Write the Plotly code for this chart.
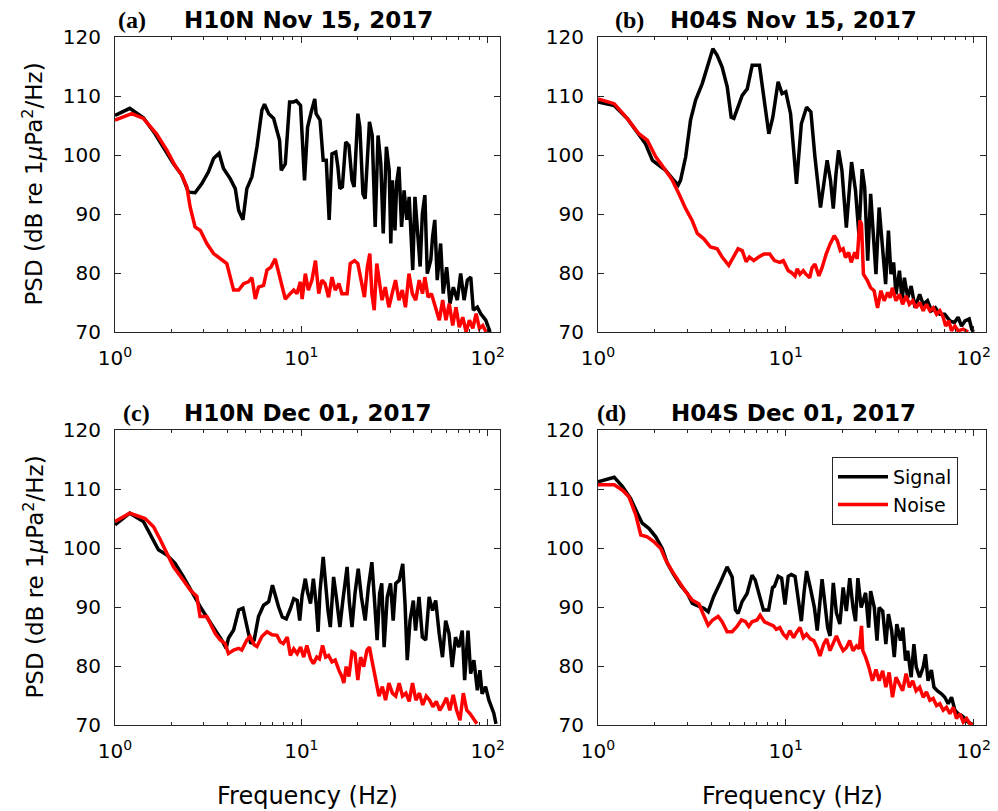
import plotly.graph_objects as go

# ---------------- data (frequency in Hz, PSD in dB re 1 uPa^2/Hz) ----------------
# (a) H10N Nov 15, 2017
fa_sig = [1, 1.2, 1.42, 1.64, 1.86, 2.06, 2.28, 2.48, 2.69, 2.92,
          3.17, 3.38, 3.62, 3.82, 4.15, 4.42, 4.61, 4.86, 5.1, 5.43,
          5.78, 6.14, 6.34, 6.68, 7.1, 7.64, 7.8, 8.2, 8.65, 9.1,
          9.4, 9.9, 10.4, 10.8, 11.3, 11.6, 11.8, 12.0, 12.6, 13.1,
          13.6, 14.1, 14.6, 15.3, 15.7, 16.1, 16.6, 17.3, 18.0, 18.7,
          19.2, 20.1, 20.6, 21.4, 22.0, 23.2, 24.0, 24.9, 25.8, 26.7,
          27.5, 28.6, 29.6, 30.2, 30.8, 31.8, 32.5, 33.4, 34.5, 35.6,
          36.8, 37.9, 39.6, 40.7, 41.9, 43.4, 44.6, 46.0, 47.4, 49.5,
          50.6, 52.0, 53.6, 55.9, 57.7, 60.2, 62.8, 65.4, 68.7, 71.6,
          74.7, 77.8, 81.1, 83.7, 88.0, 91.8, 97.6, 103.0]
da_sig = [106.7, 107.9, 106.3, 103.6, 100.8, 98.5, 96.6, 93.7, 93.6, 95.1,
          97.1, 99.4, 100.3, 97.7, 96.0, 94.3, 90.6, 89.0, 94.3, 96.3,
          101.4, 107.6, 108.6, 107.0, 106.2, 102.5, 97.4, 98.5, 109.0, 109.0,
          109.2, 108.4, 95.7, 104.7, 107.3, 108.4, 109.5, 107.0, 105.9, 99.1,
          99.1, 89.0, 100.2, 100.5, 98.0, 94.3, 94.6, 102.2, 101.6, 95.7,
          94.6, 107.0, 104.7, 93.4, 92.6, 105.6, 103.3, 87.8, 103.3, 98.5,
          86.7, 101.4, 97.4, 85.0, 95.7, 87.2, 95.4, 98.0, 87.8, 94.0,
          89.0, 92.9, 80.5, 92.9, 87.8, 81.1, 90.0, 93.2, 79.9, 82.2,
          86.1, 89.0, 78.8, 85.0, 76.5, 81.0, 74.8, 77.6, 75.4, 79.9,
          75.4, 78.8, 79.3, 73.7, 74.2, 73.1, 72.0, 70.0]
fa_noi = [1, 1.23, 1.42, 1.67, 1.9, 2.1, 2.28, 2.43, 2.53, 2.69,
          2.87, 3.11, 3.38, 3.67, 3.98, 4.33, 4.61, 4.9, 5.2, 5.43,
          5.66, 5.89, 6.27, 6.54, 6.87, 7.24, 7.55, 7.87, 8.2, 8.72,
          9.1, 9.47, 9.88, 10.1, 10.5, 10.9, 11.4, 11.9, 12.4, 12.9,
          13.4, 14.0, 14.6, 15.2, 15.9, 16.5, 17.6, 18.3, 19.3, 20.1,
          20.9, 21.8, 22.6, 23.3, 23.9, 24.6, 25.4, 26.3, 27.1, 28.2,
          29.5, 30.7, 32.0, 33.4, 34.8, 36.2, 37.8, 39.4, 41.1, 42.9,
          44.7, 46.0, 47.9, 49.9, 52.7, 55.0, 57.3, 59.7, 62.2, 64.9,
          67.6, 70.4, 73.5, 76.6, 79.8, 83.2, 86.7, 90.3, 94.1, 98.1]
da_noi = [105.9, 107.0, 106.2, 103.6, 100.8, 98.2, 96.6, 94.6, 91.2, 87.8,
          87.2, 85.0, 83.3, 82.4, 81.6, 77.1, 77.1, 78.2, 78.5, 79.2,
          75.6, 77.6, 77.9, 80.5, 81.0, 82.4, 79.9, 77.6, 75.6, 76.5,
          77.1, 76.5, 78.5, 75.6, 79.9, 77.1, 78.8, 82.1, 76.5, 78.8,
          78.2, 75.9, 79.3, 77.1, 78.2, 76.5, 76.5, 81.6, 82.1, 81.6,
          78.8, 75.9, 81.0, 83.3, 76.5, 73.7, 81.6, 78.2, 75.4, 77.6,
          74.2, 76.5, 78.8, 75.4, 77.1, 74.2, 79.9, 76.5, 75.4, 78.8,
          76.5, 79.3, 75.9, 76.5, 74.2, 72.0, 75.4, 72.0, 74.8, 71.1,
          74.2, 70.8, 72.5, 70.0, 72.0, 70.6, 73.1, 70.6, 71.1, 70.0]

# (b) H04S Nov 15, 2017
fb_sig = [1.0, 1.22, 1.43, 1.65, 1.79, 1.95, 2.11, 2.29, 2.49, 2.67,
          2.75, 2.93, 3.11, 3.31, 3.59, 3.81, 4.09, 4.31, 4.58, 4.88,
          5.12, 5.29, 5.51, 5.86, 6.23, 6.62, 7.24, 7.64, 8.12, 8.53,
          9.1, 9.55, 10.0, 10.6, 11.4, 12.1, 12.9, 13.6, 14.3, 15.3,
          16.0, 16.6, 17.3, 17.9, 18.5, 19.1, 19.9, 21.0, 22.4, 23.5,
          24.5, 25.5, 26.3, 27.3, 28.3, 29.2, 30.2, 31.4, 32.8, 34.0,
          35.2, 36.3, 37.5, 38.6, 40.3, 41.6, 42.8, 44.6, 46.5, 48.8,
          51.6, 53.9, 56.8, 59.6, 62.6, 66.1, 70.2, 74.8, 79.0, 82.7,
          86.3, 90.0, 94.7, 97.7, 99.8]
db_sig = [109.0, 108.4, 106.2, 103.6, 101.9, 99.1, 98.2, 97.4, 96.0, 94.9,
          95.7, 99.7, 105.9, 109.3, 112.1, 114.9, 118.0, 116.9, 114.9, 111.5,
          106.4, 106.2, 107.6, 110.1, 111.2, 115.2, 115.2, 109.8, 103.6, 106.4,
          112.4, 110.4, 110.7, 107.0, 95.1, 105.3, 108.1, 107.3, 99.6, 91.1,
          95.7, 99.1, 95.7, 90.9, 96.8, 100.8, 97.4, 87.7, 98.8, 94.0,
          86.6, 97.6, 94.5, 82.1, 93.4, 87.2, 79.8, 91.1, 84.3, 78.1,
          87.2, 79.8, 81.8, 76.4, 80.4, 75.3, 79.2, 75.8, 77.8, 74.1,
          76.4, 74.7, 75.3, 73.6, 74.1, 73.0, 73.0, 71.9, 71.6, 72.5,
          71.0, 71.9, 72.2, 70.5, 70.0]
fb_noi = [1.0, 1.22, 1.43, 1.65, 1.83, 2.03, 2.29, 2.49, 2.7, 2.93,
          3.17, 3.38, 3.66, 3.97, 4.31, 4.58, 4.97, 5.29, 5.57, 5.86,
          6.15, 6.4, 6.75, 7.17, 7.64, 8.22, 8.7, 9.3, 9.7, 10.3,
          10.7, 11.2, 11.5, 11.9, 12.4, 12.8, 13.4, 13.8, 14.3, 15.0,
          15.6, 16.4, 17.2, 18.1, 18.8, 19.5, 20.2, 20.8, 21.6, 22.3,
          23.3, 24.0, 24.8, 25.3, 25.9, 27.2, 28.3, 29.5, 30.8, 32.1,
          33.4, 34.9, 36.0, 36.9, 38.6, 40.3, 41.9, 43.7, 45.5, 47.4,
          49.4, 51.6, 53.9, 56.1, 58.5, 60.9, 63.5, 66.1, 68.9, 71.0,
          73.7, 76.3, 79.5, 82.7, 88.0, 93.5]
db_noi = [109.5, 108.7, 106.2, 103.6, 102.5, 99.7, 97.4, 95.7, 93.4, 90.9,
          88.9, 86.7, 85.8, 84.4, 84.1, 82.7, 81.3, 82.7, 84.1, 83.8,
          81.9, 82.7, 82.1, 82.7, 83.2, 83.2, 82.1, 81.8, 82.1, 80.4,
          80.1, 79.5, 80.7, 79.8, 80.4, 79.8, 79.2, 80.9, 81.5, 79.5,
          80.9, 83.2, 84.9, 86.3, 85.5, 83.8, 84.1, 82.6, 83.5, 81.8,
          83.5, 82.4, 88.9, 88.3, 79.8, 78.7, 77.5, 77.0, 74.1, 77.0,
          75.3, 76.7, 75.8, 77.5, 75.3, 76.4, 74.7, 76.1, 74.7, 75.3,
          74.1, 75.0, 73.6, 74.7, 73.6, 74.1, 73.0, 73.6, 72.5, 71.0,
          71.9, 70.2, 71.0, 70.2, 70.5, 70.0]

# (c) H10N Dec 01, 2017
fc_sig = [1.0, 1.2, 1.42, 1.57, 1.71, 1.9, 2.1, 2.33, 2.58, 2.86,
          3.18, 3.45, 3.74, 3.95, 4.06, 4.33, 4.61, 4.86, 5.1, 5.35,
          5.58, 5.89, 6.27, 6.68, 7.0, 7.24, 7.55, 7.9, 8.3, 8.73,
          9.1, 9.5, 9.8, 10.1, 10.5, 10.8, 11.2, 11.6, 12.0, 12.3,
          12.6, 13.1, 13.4, 13.9, 14.3, 14.9, 15.4, 16.1, 16.7, 17.6,
          18.1, 18.7, 19.4, 20.2, 21.0, 22.0, 22.9, 23.9, 24.7, 25.5,
          26.3, 27.0, 27.8, 28.9, 30.1, 31.1, 32.1, 33.5, 35.0, 36.0,
          37.0, 38.3, 39.9, 41.0, 42.8, 44.6, 46.5, 48.5, 50.6, 52.6,
          54.9, 57.2, 59.5, 62.0, 64.5, 67.2, 70.0, 73.0, 75.2, 78.4,
          81.0, 84.3, 88.0, 90.8, 93.3, 97.4, 101.5, 104.3, 107.8, 110.8]
dc_sig = [103.9, 105.9, 104.5, 101.9, 99.7, 98.8, 97.4, 95.1, 92.6, 90.1,
          87.8, 86.1, 84.4, 83.0, 84.7, 86.1, 89.5, 89.8, 86.7, 83.8,
          84.4, 88.4, 90.3, 90.9, 93.7, 92.0, 90.0, 88.3, 88.0, 89.7,
          91.4, 91.1, 87.7, 92.0, 94.8, 92.5, 90.6, 94.8, 90.6, 85.8,
          92.8, 98.5, 94.8, 89.4, 86.6, 95.1, 91.7, 86.6, 91.1, 96.8,
          90.8, 86.6, 92.3, 96.5, 91.7, 87.7, 93.4, 97.6, 91.1, 84.4,
          92.3, 94.0, 83.2, 91.7, 94.0, 87.7, 94.0, 94.5, 97.3, 90.6,
          81.0, 87.7, 91.1, 86.0, 91.7, 84.9, 84.4, 91.7, 89.4, 91.1,
          85.5, 81.5, 87.7, 85.5, 79.8, 84.9, 83.2, 86.0, 77.6, 86.0,
          78.7, 81.0, 75.9, 79.3, 75.3, 76.5, 74.2, 73.1, 72.0, 70.2]
fc_noi = [1.0, 1.2, 1.45, 1.61, 1.75, 1.9, 2.06, 2.28, 2.53, 2.75,
          2.86, 3.11, 3.31, 3.45, 3.67, 3.9, 4.06, 4.33, 4.61, 4.79,
          5.1, 5.31, 5.58, 5.78, 6.14, 6.54, 6.96, 7.4, 7.7, 8.0,
          8.4, 8.73, 9.1, 9.5, 9.9, 10.3, 10.7, 11.2, 11.6, 12.1,
          12.5, 13.0, 13.5, 14.0, 14.6, 15.2, 15.9, 16.5, 16.9, 17.4,
          18.0, 18.7, 19.4, 20.1, 20.8, 21.6, 22.5, 23.2, 23.9, 25.0,
          26.1, 27.2, 28.3, 29.5, 30.8, 32.1, 33.5, 34.9, 36.4, 37.9,
          39.5, 41.2, 43.0, 44.8, 46.8, 48.8, 50.8, 53.0, 55.3, 57.6,
          60.1, 62.6, 65.3, 68.1, 71.0, 74.0, 77.2, 80.5, 83.9, 87.5]
dc_noi = [104.5, 105.9, 105.0, 103.6, 101.4, 99.1, 96.8, 94.9, 92.9, 91.8,
          88.4, 88.4, 86.7, 85.5, 84.4, 83.8, 82.1, 82.7, 83.0, 82.7,
          84.4, 85.0, 83.6, 83.3, 85.0, 85.8, 85.3, 85.2, 84.1, 83.8,
          84.9, 81.8, 82.9, 82.1, 83.2, 81.5, 83.5, 81.2, 80.4, 81.5,
          81.2, 83.5, 81.5, 81.8, 80.7, 81.0, 79.3, 78.2, 77.1, 79.9,
          78.2, 82.4, 82.1, 77.6, 81.5, 79.9, 82.7, 83.2, 81.0, 77.6,
          74.9, 76.5, 74.2, 77.1, 75.4, 74.9, 77.1, 74.9, 75.4, 74.0,
          77.1, 74.2, 75.4, 73.4, 74.9, 74.2, 73.1, 74.0, 72.5, 73.4,
          74.6, 72.5, 75.1, 72.5, 70.8, 75.4, 72.5, 71.9, 71.1, 70.2]

# (d) H04S Dec 01, 2017
fd_sig = [1.0, 1.22, 1.35, 1.49, 1.62, 1.72, 1.87, 2.03, 2.2, 2.34,
          2.54, 2.75, 2.99, 3.18, 3.45, 3.66, 3.86, 4.13, 4.5, 4.87,
          5.18, 5.39, 5.57, 5.85, 6.22, 6.61, 6.87, 7.3, 7.6, 8.1,
          8.5, 8.7, 9.1, 9.5, 9.9, 10.3, 10.7, 11.2, 11.6, 12.1,
          12.5, 12.9, 13.5, 14.2, 14.7, 15.1, 15.6, 16.1, 16.7, 17.2,
          17.9, 18.6, 19.4, 20.2, 21.0, 21.9, 22.8, 23.5, 24.2, 25.2,
          26.6, 27.6, 28.3, 29.6, 30.6, 31.4, 32.8, 34.1, 35.2, 36.6,
          37.8, 39.0, 40.8, 42.0, 43.4, 44.6, 46.5, 48.1, 49.5, 51.6,
          53.9, 55.4, 57.2, 59.6, 61.5, 64.0, 67.4, 70.2, 73.2, 76.3,
          79.5, 82.7, 86.3, 90.0, 93.5, 99.8]
dd_sig = [111.2, 112.0, 110.4, 108.4, 105.9, 104.2, 103.3, 101.9, 99.9, 97.4,
          95.4, 93.7, 92.3, 90.6, 90.1, 89.8, 89.2, 91.8, 94.3, 96.8,
          95.1, 89.5, 88.9, 90.9, 92.3, 95.4, 94.6, 91.2, 89.5, 89.5,
          93.3, 93.5, 95.2, 94.9, 90.4, 95.2, 95.5, 95.2, 92.1, 87.6,
          92.4, 96.1, 93.3, 89.9, 86.0, 90.4, 94.7, 91.0, 86.5, 85.1,
          94.1, 89.0, 87.1, 93.3, 89.3, 94.9, 89.9, 87.6, 94.9, 89.9,
          92.4, 86.5, 92.7, 89.9, 84.3, 89.9, 89.3, 83.7, 88.8, 86.0,
          81.5, 87.1, 84.3, 86.5, 80.9, 82.6, 78.1, 83.7, 79.8, 78.1,
          79.8, 82.0, 77.5, 79.3, 76.4, 75.8, 75.3, 74.7, 73.6, 74.7,
          72.5, 71.9, 71.6, 71.1, 70.5, 70.0]
fd_noi = [1.0, 1.22, 1.35, 1.46, 1.59, 1.69, 1.83, 1.98, 2.16, 2.29,
          2.49, 2.7, 2.93, 3.17, 3.45, 3.62, 3.86, 4.08, 4.36, 4.58,
          4.87, 5.18, 5.5, 5.8, 6.1, 6.35, 6.61, 7.03, 7.3, 7.7,
          8.22, 8.6, 8.9, 9.3, 9.7, 10.1, 10.5, 11.0, 11.4, 11.9,
          12.4, 12.9, 13.5, 14.1, 14.7, 15.2, 15.9, 16.5, 17.2, 17.9,
          18.6, 19.4, 20.2, 21.0, 21.9, 22.8, 23.8, 24.6, 25.3, 25.7,
          26.6, 27.7, 28.9, 30.2, 31.4, 32.8, 34.1, 35.5, 37.0, 38.6,
          40.3, 41.9, 43.7, 45.5, 47.4, 49.4, 51.6, 53.9, 56.1, 58.5,
          60.9, 63.5, 66.1, 68.9, 71.7, 74.8, 77.9, 81.1, 84.6, 88.1,
          91.8, 95.7, 99.8]
dd_noi = [110.7, 110.7, 109.8, 108.7, 105.6, 102.2, 101.9, 101.1, 99.9, 98.0,
          96.0, 94.3, 92.6, 91.2, 90.5, 88.9, 86.9, 87.8, 88.4, 87.5,
          85.8, 85.8, 86.7, 87.8, 87.5, 86.7, 87.5, 87.8, 88.6, 87.5,
          87.1, 86.8, 86.2, 86.5, 85.4, 84.8, 86.0, 84.8, 85.7, 86.5,
          84.8, 85.4, 84.6, 84.3, 83.1, 81.7, 83.7, 84.6, 82.6, 84.0,
          85.1, 83.7, 82.6, 83.1, 84.3, 82.6, 83.4, 82.9, 86.8, 82.6,
          81.5, 79.8, 77.5, 79.4, 77.5, 79.2, 76.4, 78.9, 74.7, 78.1,
          77.0, 75.8, 78.7, 76.4, 77.5, 75.8, 76.4, 74.7, 75.6, 74.2,
          74.5, 73.3, 73.6, 72.5, 73.0, 71.9, 73.0, 71.1, 71.9, 70.5,
          71.1, 70.2, 70.0]

panel_letters = ["(a)", "(b)", "(c)", "(d)"]
panel_titles = ["H10N Nov 15, 2017", "H04S Nov 15, 2017",
                "H10N Dec 01, 2017", "H04S Dec 01, 2017"]
series_names = ["Signal", "Noise"]
x_tick_vals = [1, 10, 100]
x_tick_text = ["10<sup>0</sup>", "10<sup>1</sup>", "10<sup>2</sup>"]
x_minor_vals = [2, 3, 4, 5, 6, 7, 8, 9, 20, 30, 40, 50, 60, 70, 80, 90]
y_tick_vals = [70, 80, 90, 100, 110, 120]

# ---------------- figure ----------------
W, H = 998, 811
FONT = "DejaVu Sans"
AXC = "#262626"

panels = [(fa_sig, da_sig, fa_noi, da_noi),
          (fb_sig, db_sig, fb_noi, db_noi),
          (fc_sig, dc_sig, fc_noi, dc_noi),
          (fd_sig, dd_sig, fd_noi, dd_noi)]

# pixel boxes of the four axes: (left, right, top, bottom)
boxes = [(115, 500, 37, 332), (598, 986, 37, 332),
         (115, 500, 430, 725), (598, 986, 430, 725)]

fig = go.Figure()
layout = dict(width=W, height=H, margin=dict(l=0, r=0, t=0, b=0, autoexpand=False),
              paper_bgcolor="white", plot_bgcolor="white",
              font=dict(family=FONT, color="black"))

for i, (fs, ds, fn, dn) in enumerate(panels):
    sfx = "" if i == 0 else str(i + 1)
    xa, ya = "x" + sfx, "y" + sfx
    fig.add_trace(go.Scatter(x=fs, y=ds, mode="lines", name=series_names[0],
                             line=dict(color="black", width=3.5),
                             xaxis=xa, yaxis=ya, showlegend=(i == 3)))
    fig.add_trace(go.Scatter(x=fn, y=dn, mode="lines", name=series_names[1],
                             line=dict(color="#ff0000", width=3.5),
                             xaxis=xa, yaxis=ya, showlegend=(i == 3)))
    l, r, t, b = boxes[i]
    layout["xaxis" + sfx] = dict(
        type="log", range=[0, 2.066], domain=[l / W, r / W], anchor=ya,
        automargin=False,
        tickmode="array", tickvals=x_tick_vals, ticktext=x_tick_text,
        ticks="inside", ticklen=6, tickwidth=1, tickcolor=AXC,
        ticklabelstandoff=8,
        showline=True, linecolor=AXC, linewidth=1, mirror="allticks",
        showgrid=False, zeroline=False,
        tickfont=dict(family=FONT, size=20, color="black"),
        minor=dict(tickmode="array", tickvals=x_minor_vals, ticks="inside",
                   ticklen=3, tickwidth=1, tickcolor=AXC, showgrid=False),
    )
    layout["yaxis" + sfx] = dict(
        range=[70, 120], domain=[1 - b / H, 1 - t / H], anchor=xa,
        automargin=False,
        tickmode="array", tickvals=y_tick_vals,
        ticks="inside", ticklen=6, tickwidth=1, tickcolor=AXC,
        ticklabelstandoff=9,
        showline=True, linecolor=AXC, linewidth=1, mirror="allticks",
        showgrid=False, zeroline=False,
        tickfont=dict(family=FONT, size=20, color="black"),
    )

annotations = []
letter_x = [132, 629, 136, 611]
title_x = [308, 793, 308, 793]
row_y = [20, 20, 413, 413]
for i in range(4):
    annotations.append(dict(xref="paper", yref="paper", x=letter_x[i] / W, y=1 - row_y[i] / H,
                            text="<b>" + panel_letters[i] + "</b>", showarrow=False,
                            xanchor="center", yanchor="middle",
                            font=dict(family="Liberation Serif", size=24, color="black")))
    annotations.append(dict(xref="paper", yref="paper", x=title_x[i] / W, y=1 - row_y[i] / H,
                            text="<b>" + panel_titles[i] + "</b>", showarrow=False,
                            xanchor="center", yanchor="middle",
                            font=dict(family=FONT, size=23, color="black")))
# axis titles
for yc in [(37 + 332) / 2, (430 + 725) / 2]:
    annotations.append(dict(xref="paper", yref="paper", x=33 / W, y=1 - yc / H,
                            text="PSD (dB re 1<i>\u03bc</i>Pa<sup>2</sup>/Hz)",
                            textangle=-90, showarrow=False,
                            xanchor="center", yanchor="middle",
                            font=dict(family=FONT, size=23, color="black")))
for xc in [(115 + 500) / 2, (598 + 986) / 2]:
    annotations.append(dict(xref="paper", yref="paper", x=xc / W, y=1 - 796 / H,
                            text="Frequency (Hz)", showarrow=False,
                            xanchor="center", yanchor="middle",
                            font=dict(family=FONT, size=24, color="black")))
layout["annotations"] = annotations
layout["legend"] = dict(x=958 / W, y=1 - 457 / H, xanchor="right", yanchor="top",
                        bgcolor="white", bordercolor=AXC, borderwidth=1,
                        font=dict(family=FONT, size=19, color="black"),
                        itemwidth=50, tracegroupgap=0)
fig.update_layout(**layout)
fig.write_html("out.html")
